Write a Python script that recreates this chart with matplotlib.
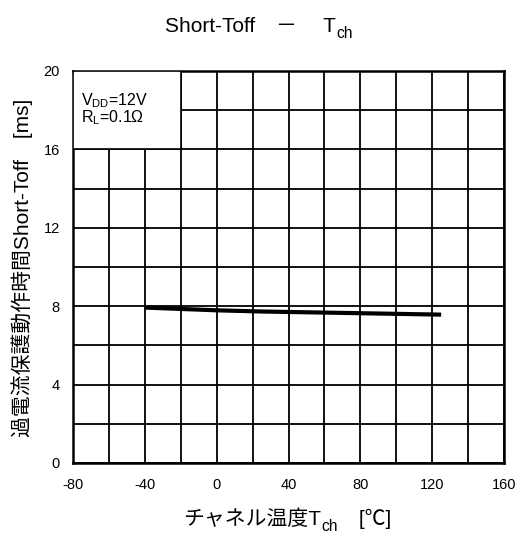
import numpy as np
import matplotlib
matplotlib.use('Agg')
import matplotlib.pyplot as plt
from matplotlib.patches import Rectangle

plt.rcParams['font.family'] = ['Liberation Sans', 'Noto Sans CJK JP', 'DejaVu Sans']
plt.rcParams['mathtext.fontset'] = 'custom'
plt.rcParams['mathtext.rm'] = 'Liberation Sans'
plt.rcParams['mathtext.it'] = 'Liberation Sans'
plt.rcParams['axes.unicode_minus'] = False

# data
tch = [-40, -20, 0, 25, 50, 75, 100, 125]
toff = [7.93, 7.86, 7.79, 7.73, 7.69, 7.65, 7.61, 7.57]

xticks = [-80, -40, 0, 40, 80, 120, 160]
yticks = [0, 4, 8, 12, 16, 20]

W, H = 520, 533
fig = plt.figure(figsize=(W/100, H/100), dpi=100)
ax = fig.add_axes([73/W, 1-463/H, 431/W, 392/H])

ax.set_xlim(-80, 160)
ax.set_ylim(0, 20)
ax.set_xticks(xticks)
ax.set_yticks(yticks)
ax.set_xticks(np.arange(-80, 161, 20), minor=True)
ax.set_yticks(np.arange(0, 21, 2), minor=True)
ax.grid(True, which='both', color='black', lw=1.3)
ax.set_axisbelow(True)
for s in ax.spines.values():
    s.set_linewidth(1.8)
ax.tick_params(which='both', length=0, labelsize=10.5)
ax.tick_params(axis='x', pad=10.5)
ax.tick_params(axis='y', pad=9.5)

ax.plot(tch, toff, color='black', lw=3, solid_capstyle='butt', zorder=5)

# condition box in the upper left
ax.add_patch(Rectangle((-80, 16), 60, 4, facecolor='white', edgecolor='black',
                       lw=1.2, zorder=3))
ax.text(-75.5, 18.25, 'V$_{\\mathrm{DD}}$=12V', fontsize=11.5, zorder=4)
ax.text(-75.5, 17.38, 'R$_{\\mathrm{L}}$=0.1Ω', fontsize=11.5, zorder=4)


def chain(x, y, parts, size):
    # pieces written one after another, sub=True -> smaller and lowered
    yb = 1 - y/H
    prev = fig.text(x/W, yb, parts[0][0], ha='left', va='baseline', fontsize=size)
    for txt, sub in parts[1:]:
        prev = plt.annotate(txt, xy=(1, yb), xycoords=(prev, 'figure fraction'),
                            xytext=(0.5 if sub else 0, -4.5 if sub else 0),
                            textcoords='offset points', ha='left', va='baseline',
                            fontsize=size*0.75 if sub else size,
                            annotation_clip=False)
    return prev


chain(165, 32, [('Short-Toff\u3000－\u3000 T', False), ('ch', True)], 15)
chain(183, 525, [('チャネル温度T', False), ('ch', True), ('\u3000[℃]', False)], 15)
fig.text(22/W, 1-268/H, '過電流保護動作時間Short-Toff\u3000[ms]',
         ha='center', va='center', rotation=90, fontsize=15)

fig.savefig('out.png', dpi=100)
